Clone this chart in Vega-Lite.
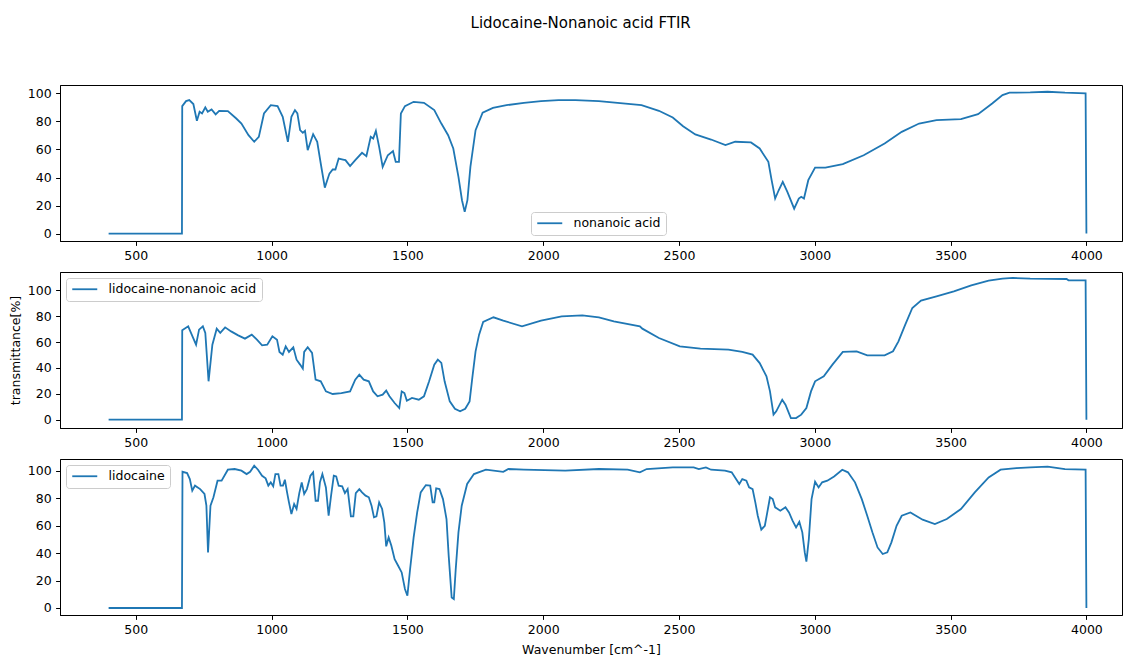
{
  "$schema": "https://vega.github.io/schema/vega-lite/v6.json",
  "padding": {"left": 8, "top": 15, "right": 0, "bottom": 0},
  "title": {
    "text": "Lidocaine-Nonanoic acid FTIR",
    "fontSize": 15,
    "font": "DejaVu Sans",
    "fontWeight": "normal",
    "color": "black",
    "anchor": "middle",
    "offset": 54,
    "dx": 15
  },
  "datasets": {
    "nonanoic": [
      {"wn": 400, "t": 0}, {"wn": 670, "t": 0}, {"wn": 671, "t": 90.9}, {"wn": 685, "t": 94.5},
      {"wn": 697, "t": 95.2}, {"wn": 712, "t": 92.4}, {"wn": 725, "t": 80.5}, {"wn": 735, "t": 86.9},
      {"wn": 744, "t": 85.7}, {"wn": 756, "t": 90}, {"wn": 765, "t": 86.9}, {"wn": 779, "t": 88.5},
      {"wn": 794, "t": 85}, {"wn": 807, "t": 87.6}, {"wn": 839, "t": 87.4}, {"wn": 870, "t": 82.1},
      {"wn": 889, "t": 78.5}, {"wn": 915, "t": 70.2}, {"wn": 936, "t": 65.5}, {"wn": 953, "t": 69},
      {"wn": 972, "t": 85.7}, {"wn": 997, "t": 91.6}, {"wn": 1022, "t": 90.9}, {"wn": 1041, "t": 83.3},
      {"wn": 1060, "t": 65.5}, {"wn": 1073, "t": 83.3}, {"wn": 1086, "t": 88.1}, {"wn": 1095, "t": 85.7},
      {"wn": 1105, "t": 73.8}, {"wn": 1115, "t": 71.9}, {"wn": 1123, "t": 73.3}, {"wn": 1133, "t": 59.5},
      {"wn": 1153, "t": 70.9}, {"wn": 1168, "t": 65.5}, {"wn": 1181, "t": 50}, {"wn": 1196, "t": 32.8},
      {"wn": 1213, "t": 42.8}, {"wn": 1225, "t": 45.7}, {"wn": 1235, "t": 45.7}, {"wn": 1247, "t": 53.5},
      {"wn": 1263, "t": 52.8}, {"wn": 1272, "t": 52.4}, {"wn": 1289, "t": 48.1}, {"wn": 1308, "t": 52.4},
      {"wn": 1333, "t": 57.6}, {"wn": 1349, "t": 55.2}, {"wn": 1365, "t": 69}, {"wn": 1374, "t": 67.8},
      {"wn": 1384, "t": 73.3}, {"wn": 1396, "t": 61.9}, {"wn": 1409, "t": 47.6}, {"wn": 1428, "t": 55.9},
      {"wn": 1447, "t": 58.8}, {"wn": 1457, "t": 51.2}, {"wn": 1469, "t": 51.2}, {"wn": 1476, "t": 85.7},
      {"wn": 1491, "t": 90.9}, {"wn": 1523, "t": 94}, {"wn": 1561, "t": 93.3}, {"wn": 1599, "t": 88.1},
      {"wn": 1625, "t": 78.5}, {"wn": 1650, "t": 70.2}, {"wn": 1669, "t": 60.7}, {"wn": 1688, "t": 40.5},
      {"wn": 1701, "t": 23.8}, {"wn": 1711, "t": 15.5}, {"wn": 1721, "t": 23.8}, {"wn": 1732, "t": 47.6},
      {"wn": 1751, "t": 73.8}, {"wn": 1777, "t": 86.2}, {"wn": 1815, "t": 89.7}, {"wn": 1865, "t": 91.6},
      {"wn": 1929, "t": 93.3}, {"wn": 1992, "t": 94.5}, {"wn": 2056, "t": 95.2}, {"wn": 2119, "t": 95.2},
      {"wn": 2205, "t": 94.5}, {"wn": 2362, "t": 91.6}, {"wn": 2426, "t": 87.6}, {"wn": 2477, "t": 82.8},
      {"wn": 2515, "t": 76.6}, {"wn": 2560, "t": 70.7}, {"wn": 2618, "t": 67.1}, {"wn": 2671, "t": 63.1},
      {"wn": 2707, "t": 65.5}, {"wn": 2765, "t": 65}, {"wn": 2797, "t": 60.7}, {"wn": 2829, "t": 51.2},
      {"wn": 2841, "t": 38.1}, {"wn": 2854, "t": 25}, {"wn": 2867, "t": 30.9}, {"wn": 2882, "t": 36.9},
      {"wn": 2899, "t": 29.7}, {"wn": 2924, "t": 17.8}, {"wn": 2941, "t": 25}, {"wn": 2950, "t": 26.2},
      {"wn": 2960, "t": 25}, {"wn": 2976, "t": 38.1}, {"wn": 3001, "t": 47.1}, {"wn": 3039, "t": 47.1},
      {"wn": 3103, "t": 49.5}, {"wn": 3180, "t": 55.9}, {"wn": 3257, "t": 64.3}, {"wn": 3320, "t": 72.6},
      {"wn": 3384, "t": 78.5}, {"wn": 3448, "t": 80.9}, {"wn": 3538, "t": 81.6}, {"wn": 3601, "t": 85.2},
      {"wn": 3653, "t": 92.8}, {"wn": 3691, "t": 98.8}, {"wn": 3717, "t": 100.5}, {"wn": 3793, "t": 100.7},
      {"wn": 3857, "t": 101.2}, {"wn": 3921, "t": 100.5}, {"wn": 3997, "t": 100}, {"wn": 4000, "t": 0}
    ],
    "mixture": [
      {"wn": 400, "t": 0}, {"wn": 670, "t": 0}, {"wn": 671, "t": 69.1}, {"wn": 693, "t": 72.2},
      {"wn": 706, "t": 65.8}, {"wn": 722, "t": 58}, {"wn": 733, "t": 69.6}, {"wn": 747, "t": 72.2},
      {"wn": 756, "t": 67.1}, {"wn": 768, "t": 29.7}, {"wn": 782, "t": 58}, {"wn": 798, "t": 70.4},
      {"wn": 811, "t": 67.1}, {"wn": 829, "t": 71.4}, {"wn": 851, "t": 68.3}, {"wn": 877, "t": 65.2},
      {"wn": 902, "t": 62.7}, {"wn": 927, "t": 65.8}, {"wn": 946, "t": 61.9}, {"wn": 965, "t": 57.5},
      {"wn": 984, "t": 58}, {"wn": 1003, "t": 64.5}, {"wn": 1020, "t": 61.9}, {"wn": 1029, "t": 52.4},
      {"wn": 1041, "t": 50.3}, {"wn": 1052, "t": 56.7}, {"wn": 1064, "t": 52.4}, {"wn": 1080, "t": 56},
      {"wn": 1092, "t": 46.4}, {"wn": 1105, "t": 42.6}, {"wn": 1115, "t": 39.5}, {"wn": 1120, "t": 52.4},
      {"wn": 1133, "t": 56}, {"wn": 1149, "t": 51.6}, {"wn": 1162, "t": 31}, {"wn": 1181, "t": 29.7},
      {"wn": 1200, "t": 21.9}, {"wn": 1225, "t": 19.9}, {"wn": 1257, "t": 20.6}, {"wn": 1289, "t": 21.9},
      {"wn": 1308, "t": 31}, {"wn": 1323, "t": 34.8}, {"wn": 1339, "t": 31}, {"wn": 1358, "t": 29.7},
      {"wn": 1374, "t": 21.9}, {"wn": 1390, "t": 18.1}, {"wn": 1409, "t": 19.4}, {"wn": 1422, "t": 22.5},
      {"wn": 1434, "t": 18.1}, {"wn": 1453, "t": 12.9}, {"wn": 1470, "t": 9}, {"wn": 1479, "t": 21.9},
      {"wn": 1489, "t": 20.6}, {"wn": 1498, "t": 14.7}, {"wn": 1517, "t": 16.8}, {"wn": 1542, "t": 15.5},
      {"wn": 1561, "t": 18.1}, {"wn": 1580, "t": 29.7}, {"wn": 1599, "t": 42.6}, {"wn": 1612, "t": 46.4},
      {"wn": 1625, "t": 43.9}, {"wn": 1637, "t": 29.7}, {"wn": 1656, "t": 14.2}, {"wn": 1675, "t": 8.5},
      {"wn": 1694, "t": 6.5}, {"wn": 1713, "t": 8.5}, {"wn": 1729, "t": 14.2}, {"wn": 1739, "t": 32.3},
      {"wn": 1751, "t": 52.9}, {"wn": 1764, "t": 65.8}, {"wn": 1779, "t": 75.6}, {"wn": 1817, "t": 79.2},
      {"wn": 1853, "t": 76.6}, {"wn": 1922, "t": 72.2}, {"wn": 1992, "t": 76.6}, {"wn": 2068, "t": 79.9},
      {"wn": 2144, "t": 80.7}, {"wn": 2205, "t": 79.2}, {"wn": 2260, "t": 76.1}, {"wn": 2356, "t": 72.2},
      {"wn": 2365, "t": 70.4}, {"wn": 2426, "t": 63.2}, {"wn": 2503, "t": 56.7}, {"wn": 2579, "t": 54.9},
      {"wn": 2682, "t": 54.2}, {"wn": 2733, "t": 52.4}, {"wn": 2771, "t": 50.3}, {"wn": 2797, "t": 43.8},
      {"wn": 2822, "t": 33.5}, {"wn": 2835, "t": 21.9}, {"wn": 2848, "t": 3.9}, {"wn": 2858, "t": 6.5},
      {"wn": 2880, "t": 15.5}, {"wn": 2892, "t": 11.6}, {"wn": 2912, "t": 1.3}, {"wn": 2931, "t": 1.3},
      {"wn": 2950, "t": 3.9}, {"wn": 2969, "t": 9}, {"wn": 2986, "t": 21.9}, {"wn": 3001, "t": 29.7},
      {"wn": 3033, "t": 33.5}, {"wn": 3065, "t": 42.6}, {"wn": 3103, "t": 52.4}, {"wn": 3154, "t": 52.9},
      {"wn": 3193, "t": 49.8}, {"wn": 3257, "t": 49.8}, {"wn": 3288, "t": 52.9}, {"wn": 3308, "t": 60.6},
      {"wn": 3333, "t": 73.5}, {"wn": 3359, "t": 86.4}, {"wn": 3391, "t": 92.1}, {"wn": 3448, "t": 95.4},
      {"wn": 3512, "t": 99.3}, {"wn": 3576, "t": 103.9}, {"wn": 3640, "t": 107.5}, {"wn": 3691, "t": 109.1},
      {"wn": 3729, "t": 109.6}, {"wn": 3793, "t": 109.1}, {"wn": 3927, "t": 108.8}, {"wn": 3934, "t": 107.8},
      {"wn": 3997, "t": 107.8}, {"wn": 4000, "t": 0}
    ],
    "lidocaine": [
      {"wn": 400, "t": 0}, {"wn": 670, "t": 0}, {"wn": 672, "t": 99.2}, {"wn": 689, "t": 98.3},
      {"wn": 699, "t": 93.9}, {"wn": 708, "t": 85.4}, {"wn": 718, "t": 89.1}, {"wn": 737, "t": 86.6},
      {"wn": 753, "t": 83}, {"wn": 760, "t": 74.5}, {"wn": 766, "t": 40.5}, {"wn": 775, "t": 74.5},
      {"wn": 786, "t": 80.6}, {"wn": 801, "t": 92.7}, {"wn": 816, "t": 92.7}, {"wn": 839, "t": 100.7},
      {"wn": 864, "t": 101.2}, {"wn": 889, "t": 100}, {"wn": 908, "t": 97.5}, {"wn": 921, "t": 99.2},
      {"wn": 936, "t": 103.6}, {"wn": 950, "t": 100.7}, {"wn": 965, "t": 96.3}, {"wn": 978, "t": 94.4},
      {"wn": 988, "t": 89.1}, {"wn": 997, "t": 91.5}, {"wn": 1006, "t": 88.6}, {"wn": 1014, "t": 97.5},
      {"wn": 1025, "t": 97.5}, {"wn": 1033, "t": 89.1}, {"wn": 1042, "t": 89.1}, {"wn": 1049, "t": 93.4},
      {"wn": 1057, "t": 84.2}, {"wn": 1064, "t": 76.9}, {"wn": 1073, "t": 68.4}, {"wn": 1083, "t": 75.7},
      {"wn": 1092, "t": 72.1}, {"wn": 1102, "t": 83.7}, {"wn": 1111, "t": 91.5}, {"wn": 1120, "t": 83},
      {"wn": 1130, "t": 86.6}, {"wn": 1143, "t": 96.3}, {"wn": 1153, "t": 98.8}, {"wn": 1162, "t": 78.1},
      {"wn": 1171, "t": 78.1}, {"wn": 1178, "t": 91.5}, {"wn": 1187, "t": 97.5}, {"wn": 1200, "t": 87.8},
      {"wn": 1210, "t": 67.2}, {"wn": 1219, "t": 81.8}, {"wn": 1229, "t": 96.3}, {"wn": 1238, "t": 95.8},
      {"wn": 1247, "t": 89.1}, {"wn": 1260, "t": 88.6}, {"wn": 1270, "t": 83.7}, {"wn": 1280, "t": 86.6},
      {"wn": 1292, "t": 66.7}, {"wn": 1301, "t": 66.7}, {"wn": 1310, "t": 83.7}, {"wn": 1323, "t": 86.6},
      {"wn": 1333, "t": 84.2}, {"wn": 1346, "t": 81.8}, {"wn": 1358, "t": 80.6}, {"wn": 1368, "t": 74.5},
      {"wn": 1377, "t": 66}, {"wn": 1386, "t": 66.7}, {"wn": 1396, "t": 76.9}, {"wn": 1407, "t": 72.1},
      {"wn": 1415, "t": 62.3}, {"wn": 1422, "t": 44.9}, {"wn": 1431, "t": 51.4}, {"wn": 1441, "t": 45.3},
      {"wn": 1453, "t": 35.6}, {"wn": 1466, "t": 30.8}, {"wn": 1479, "t": 25.9}, {"wn": 1491, "t": 13.8},
      {"wn": 1500, "t": 8.9}, {"wn": 1510, "t": 28.4}, {"wn": 1523, "t": 51.4}, {"wn": 1536, "t": 69.6},
      {"wn": 1549, "t": 84.2}, {"wn": 1568, "t": 89.5}, {"wn": 1584, "t": 89.1}, {"wn": 1593, "t": 76.9},
      {"wn": 1599, "t": 76.9}, {"wn": 1606, "t": 87.1}, {"wn": 1618, "t": 86.6}, {"wn": 1631, "t": 79.3},
      {"wn": 1644, "t": 64.8}, {"wn": 1652, "t": 38.1}, {"wn": 1663, "t": 7.7}, {"wn": 1671, "t": 6.5},
      {"wn": 1678, "t": 28.4}, {"wn": 1688, "t": 55.1}, {"wn": 1700, "t": 74.5}, {"wn": 1720, "t": 90.3},
      {"wn": 1745, "t": 97.5}, {"wn": 1789, "t": 100.7}, {"wn": 1853, "t": 99.2}, {"wn": 1872, "t": 101.2},
      {"wn": 1929, "t": 100.7}, {"wn": 2081, "t": 100}, {"wn": 2205, "t": 101.2}, {"wn": 2311, "t": 100.7},
      {"wn": 2356, "t": 98.8}, {"wn": 2381, "t": 101.2}, {"wn": 2477, "t": 102.4}, {"wn": 2554, "t": 102.4},
      {"wn": 2573, "t": 101.2}, {"wn": 2599, "t": 102.4}, {"wn": 2618, "t": 100.7}, {"wn": 2669, "t": 100},
      {"wn": 2694, "t": 98.8}, {"wn": 2710, "t": 93.9}, {"wn": 2722, "t": 90.3}, {"wn": 2733, "t": 93.9},
      {"wn": 2748, "t": 92.7}, {"wn": 2758, "t": 87.8}, {"wn": 2771, "t": 86.6}, {"wn": 2781, "t": 76.9},
      {"wn": 2790, "t": 67.2}, {"wn": 2803, "t": 57}, {"wn": 2816, "t": 59.9}, {"wn": 2825, "t": 69.6},
      {"wn": 2835, "t": 80.6}, {"wn": 2845, "t": 79.3}, {"wn": 2854, "t": 73.3}, {"wn": 2873, "t": 70.8},
      {"wn": 2892, "t": 73.3}, {"wn": 2905, "t": 69.6}, {"wn": 2918, "t": 63.6}, {"wn": 2931, "t": 58.7},
      {"wn": 2943, "t": 62.8}, {"wn": 2954, "t": 55.1}, {"wn": 2963, "t": 40.5}, {"wn": 2969, "t": 33.7},
      {"wn": 2978, "t": 50.2}, {"wn": 2988, "t": 79.3}, {"wn": 3001, "t": 92}, {"wn": 3014, "t": 87.8},
      {"wn": 3027, "t": 91.5}, {"wn": 3046, "t": 92.7}, {"wn": 3071, "t": 95.8}, {"wn": 3101, "t": 100.7},
      {"wn": 3122, "t": 98.8}, {"wn": 3148, "t": 91.5}, {"wn": 3173, "t": 79.3}, {"wn": 3193, "t": 67.2},
      {"wn": 3212, "t": 55.1}, {"wn": 3231, "t": 44.1}, {"wn": 3250, "t": 39.3}, {"wn": 3267, "t": 40.5},
      {"wn": 3282, "t": 47.8}, {"wn": 3301, "t": 59.9}, {"wn": 3320, "t": 67.2}, {"wn": 3352, "t": 69.6},
      {"wn": 3397, "t": 64.3}, {"wn": 3442, "t": 61.1}, {"wn": 3486, "t": 64.8}, {"wn": 3538, "t": 72.1},
      {"wn": 3589, "t": 84.2}, {"wn": 3640, "t": 95.1}, {"wn": 3684, "t": 100.7}, {"wn": 3742, "t": 101.9},
      {"wn": 3793, "t": 102.4}, {"wn": 3857, "t": 102.9}, {"wn": 3921, "t": 101.2}, {"wn": 3997, "t": 100.7},
      {"wn": 4000, "t": 0}
    ]
  },
  "spacing": 8,
  "resolve": {
    "scale": {"x": "independent", "y": "independent", "color": "independent"},
    "legend": {"color": "independent"}
  },
  "vconcat": [
    {
      "width": 1062,
      "height": 156,
      "data": {"name": "nonanoic"},
      "mark": {"type": "line", "strokeWidth": 1.8},
      "encoding": {
        "x": {
          "field": "wn", "type": "quantitative",
          "scale": {"domain": [221, 4131], "nice": false, "zero": false},
          "axis": {"values": [500, 1000, 1500, 2000, 2500, 3000, 3500, 4000], "format": "d", "title": null}
        },
        "y": {
          "field": "t", "type": "quantitative",
          "scale": {"domain": [-5.3, 106], "nice": false, "zero": false},
          "axis": {"values": [0, 20, 40, 60, 80, 100], "format": "d", "title": null}
        },
        "color": {
          "datum": "nonanoic acid",
          "scale": {"range": ["#1f77b4"]},
          "legend": {"title": null, "orient": "none", "legendX": 471, "legendY": 127}
        }
      }
    },
    {
      "width": 1062,
      "height": 156,
      "data": {"name": "mixture"},
      "mark": {"type": "line", "strokeWidth": 1.8},
      "encoding": {
        "x": {
          "field": "wn", "type": "quantitative",
          "scale": {"domain": [221, 4131], "nice": false, "zero": false},
          "axis": {"values": [500, 1000, 1500, 2000, 2500, 3000, 3500, 4000], "format": "d", "title": null}
        },
        "y": {
          "field": "t", "type": "quantitative",
          "scale": {"domain": [-6.4, 114.2], "nice": false, "zero": false},
          "axis": {"values": [0, 20, 40, 60, 80, 100], "format": "d", "title": "transmittance[%]", "titlePadding": 5}
        },
        "color": {
          "datum": "lidocaine-nonanoic acid",
          "scale": {"range": ["#1f77b4"]},
          "legend": {"title": null, "orient": "top-left"}
        }
      }
    },
    {
      "width": 1062,
      "height": 156,
      "data": {"name": "lidocaine"},
      "mark": {"type": "line", "strokeWidth": 1.8},
      "encoding": {
        "x": {
          "field": "wn", "type": "quantitative",
          "scale": {"domain": [221, 4131], "nice": false, "zero": false},
          "axis": {"values": [500, 1000, 1500, 2000, 2500, 3000, 3500, 4000], "format": "d", "title": "Wavenumber [cm^-1]", "titlePadding": 7}
        },
        "y": {
          "field": "t", "type": "quantitative",
          "scale": {"domain": [-5.1, 108.5], "nice": false, "zero": false},
          "axis": {"values": [0, 20, 40, 60, 80, 100], "format": "d", "title": null}
        },
        "color": {
          "datum": "lidocaine",
          "scale": {"range": ["#1f77b4"]},
          "legend": {"title": null, "orient": "top-left"}
        }
      }
    }
  ],
  "config": {
    "font": "DejaVu Sans",
    "background": "white",
    "view": {"stroke": "black", "strokeWidth": 1},
    "axis": {
      "grid": false,
      "domainColor": "black",
      "domainWidth": 1,
      "tickColor": "black",
      "tickWidth": 1,
      "tickSize": 4.4,
      "labelPadding": 4.4,
      "labelFont": "DejaVu Sans",
      "labelFontSize": 12.5,
      "labelColor": "black",
      "titleFont": "DejaVu Sans",
      "titleFontSize": 12.5,
      "titleFontWeight": "normal",
      "titleColor": "black"
    },
    "legend": {
      "symbolType": "M-2.5,0H2.5",
      "symbolSize": 100,
      "symbolOffset": 7.5,
      "symbolStrokeWidth": 1.8,
      "labelOffset": 17.5,
      "labelFont": "DejaVu Sans",
      "labelFontSize": 12.5,
      "labelColor": "black",
      "padding": 5,
      "offset": 6,
      "strokeColor": "#cccccc",
      "fillColor": "rgba(255,255,255,0.8)",
      "cornerRadius": 3
    }
  }
}
